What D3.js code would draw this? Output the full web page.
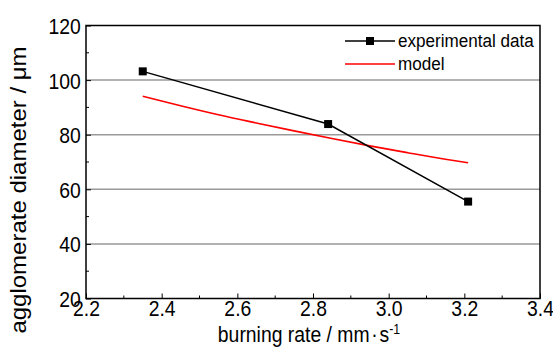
<!DOCTYPE html>
<html>
<head>
<meta charset="utf-8">
<script src="https://cdn.jsdelivr.net/npm/d3@7"></script>
<style>
  body { margin: 0; background: #fff; }
  text { font-family: "Liberation Sans", Arial, sans-serif; }
</style>
</head>
<body>
<svg id="chart" width="553" height="348"></svg>
<script>
// experimental data
const expRate = [2.35, 2.84, 3.21];
const expDiam = [103.2, 83.9, 55.5];
// model curve
const modelRate = [2.35, 2.45, 2.55, 2.65, 2.75, 2.85, 2.95, 3.05, 3.15, 3.21];
const modelDiam = [94.1, 90.6, 87.3, 84.3, 81.4, 78.6, 75.9, 73.4, 71.0, 69.7];

const xTicks = [2.2, 2.4, 2.6, 2.8, 3.0, 3.2, 3.4];
const yTicks = [20, 40, 60, 80, 100, 120];
const gridVals = [40, 60, 80, 100];

const margin = { top: 25.5, right: 13, bottom: 49.5, left: 86 };
const width = 553 - margin.left - margin.right;
const height = 348 - margin.top - margin.bottom;

// text in the original is a bit narrow, squeeze it horizontally
const squeeze = 0.88;

const svg = d3.select('#chart');
const g = svg.append('g').attr('transform', `translate(${margin.left},${margin.top})`);

const x = d3.scaleLinear().domain([2.2, 3.4]).range([0, width]);
const y = d3.scaleLinear().domain([20, 120]).range([height, 0]);

// gridlines
g.selectAll('.grid')
  .data(gridVals)
  .join('line')
  .attr('x1', 0).attr('x2', width)
  .attr('y1', d => y(d)).attr('y2', d => y(d))
  .attr('stroke', '#999').attr('stroke-width', 1.5);

// minor ticks (inward)
const xMinor = d3.range(2.3, 3.4, 0.2);
g.selectAll('.xminor')
  .data(xMinor)
  .join('line')
  .attr('x1', d => x(d)).attr('x2', d => x(d))
  .attr('y1', height).attr('y2', height - 3)
  .attr('stroke', '#000');
const yMinor = d3.range(30, 120, 20);
g.selectAll('.yminor')
  .data(yMinor)
  .join('line')
  .attr('x1', 0).attr('x2', 3)
  .attr('y1', d => y(d)).attr('y2', d => y(d))
  .attr('stroke', '#000');

// axes, ticks pointing inward
const xAxis = g.append('g')
  .attr('transform', `translate(0,${height})`)
  .call(d3.axisBottom(x).tickValues(xTicks).tickFormat(d3.format('.1f')).tickSizeInner(-5).tickSizeOuter(0).tickPadding(2));
const yAxis = g.append('g')
  .call(d3.axisLeft(y).tickValues(yTicks).tickSizeInner(-5).tickSizeOuter(0).tickPadding(6));

[xAxis, yAxis].forEach(a => {
  a.selectAll('text').attr('font-size', 22).attr('fill', '#000')
    .style('font-family', '"Liberation Sans", Arial, sans-serif')
    .attr('transform', `scale(${squeeze},1)`);
  a.select('.domain').remove();
});
yAxis.selectAll('text').attr('dy', '0.36em');

// frame
g.append('rect')
  .attr('width', width).attr('height', height)
  .attr('fill', 'none').attr('stroke', '#000').attr('stroke-width', 1.5);

// model line
const modelPts = modelRate.map((r, i) => [r, modelDiam[i]]);
g.append('path')
  .datum(modelPts)
  .attr('fill', 'none').attr('stroke', '#f00').attr('stroke-width', 1.6)
  .attr('d', d3.line().x(d => x(d[0])).y(d => y(d[1])).curve(d3.curveMonotoneX));

// experimental line + markers
const expPts = expRate.map((r, i) => [r, expDiam[i]]);
g.append('path')
  .datum(expPts)
  .attr('fill', 'none').attr('stroke', '#000').attr('stroke-width', 1.5)
  .attr('d', d3.line().x(d => x(d[0])).y(d => y(d[1])));
const ms = 8;
g.selectAll('.marker')
  .data(expPts)
  .join('rect')
  .attr('x', d => x(d[0]) - ms / 2).attr('y', d => y(d[1]) - ms / 2)
  .attr('width', ms).attr('height', ms).attr('fill', '#000');

// legend
const legend = svg.append('g').attr('transform', 'translate(345,0)');
legend.append('line').attr('x1', 0).attr('x2', 50).attr('y1', 41).attr('y2', 41)
  .attr('stroke', '#000').attr('stroke-width', 1.5);
legend.append('rect').attr('x', 25 - ms / 2).attr('y', 41 - ms / 2).attr('width', ms).attr('height', ms).attr('fill', '#000');
legend.append('text').attr('transform', `translate(53,47) scale(${squeeze + 0.02},1)`)
  .attr('font-size', 19).text('experimental data');
legend.append('line').attr('x1', 0).attr('x2', 50).attr('y1', 64).attr('y2', 64)
  .attr('stroke', '#f00').attr('stroke-width', 1.5);
legend.append('text').attr('transform', `translate(53,70) scale(${squeeze + 0.02},1)`)
  .attr('font-size', 19).text('model');

// axis titles
const xTitle = svg.append('text')
  .attr('transform', `translate(309,342) scale(${squeeze},1)`)
  .attr('text-anchor', 'middle').attr('font-size', 22);
xTitle.append('tspan').text('burning rate / mm');
xTitle.append('tspan').attr('dx', 2).text('·');
xTitle.append('tspan').attr('dx', 2).text('s');
xTitle.append('tspan').attr('dy', -8).attr('font-size', 14).text('-1');

svg.append('text')
  .attr('transform', 'translate(26,190) rotate(-90) scale(1,0.94)')
  .attr('text-anchor', 'middle').attr('font-size', 24)
  .text('agglomerate diameter / μm');
</script>
</body>
</html>
